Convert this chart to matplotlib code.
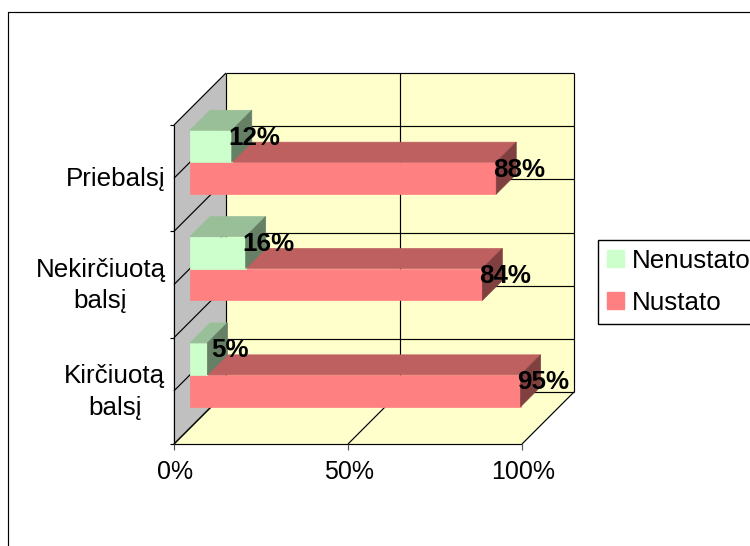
import matplotlib
matplotlib.use("Agg")
import matplotlib.pyplot as plt
from matplotlib.lines import Line2D
from matplotlib.patches import Patch, Polygon

plt.rcParams['font.family'] = ['Liberation Sans', 'DejaVu Sans']

categories = ["Kirčiuotą\nbalsį", "Nekirčiuotą\nbalsį", "Priebalsį"]
nustato = [95, 84, 88]
nenustato = [5, 16, 12]
x_ticks = [0, 50, 100]
series_names = ["Nenustato", "Nustato"]

W, H = 750, 546
X0, PX_PER_VAL = 174, 3.48       # pixel of 0% on front plane, pixels per percent
Y0, PX_PER_CAT = 444, 106.33     # pixel of the floor on front plane, pixels per category
DX = 52 / PX_PER_VAL             # box depth in data units
DY = 52 / PX_PER_CAT

WALL = '#FFFFCC'
SIDE = '#C0C0C0'
GREEN = ('#CCFFCC', '#99BF99', '#668066')
PINK = ('#FF8080', '#BF6060', '#804040')

fig = plt.figure(figsize=(W / 100, H / 100), dpi=100)
ax = fig.add_axes([0, 0, 1, 1])
ax.set_xlim(-X0 / PX_PER_VAL, (W - X0) / PX_PER_VAL)
ax.set_ylim((Y0 - H) / PX_PER_CAT, Y0 / PX_PER_CAT)
ax.axis('off')

n = len(categories)
xmax = x_ticks[-1]


def poly(pts, color, z):
    ax.add_patch(Polygon(pts, closed=True, facecolor=color, edgecolor=color, lw=0.5, zorder=z))


def line(xs, ys, z=2, color='black', lw=0.85):
    ax.plot(xs, ys, color=color, lw=lw, zorder=z, solid_capstyle='butt')


# walls and floor
poly([(0, 0), (DX, DY), (DX, n + DY), (0, n)], SIDE, 1)
poly([(DX, DY), (xmax + DX, DY), (xmax + DX, n + DY), (DX, n + DY)], WALL, 1)
poly([(0, 0), (xmax, 0), (xmax + DX, DY), (DX, DY)], WALL, 1)

# gridlines, every half category
for i in range(2 * n + 1):
    c = i / 2
    line([DX, xmax + DX], [c + DY, c + DY])
    line([0, DX], [c, c + DY])
for v in x_ticks:
    line([v + DX, v + DX], [DY, n + DY])
    line([v, v + DX], [0, DY])
line([0, 0], [0, n])
line([0, xmax], [0, 0])

# axis ticks
for v in x_ticks:
    line([v, v], [0, -6 / PX_PER_CAT], color='#555555')
    ax.text(v + 0.2, -28 / PX_PER_CAT, f"{v}%", ha='center', va='center', fontsize=18)
for c in range(n + 1):
    line([-4 / PX_PER_VAL, 0], [c, c])
for c, name in enumerate(categories):
    ax.text(-8.5 / PX_PER_VAL, c + 0.49, name, ha='right', va='center', ma='center',
            fontsize=18.7, linespacing=1.4)

# bars
D0, D1 = 16 / 52, 36 / 52
BAR_H = 0.3
GAP = 0.2


def bar3d(value, low, colors, z):
    high = low + BAR_H
    x_a, x_b = D0 * DX, value + D0 * DX
    y_off, y_back = D0 * DY, D1 * DY
    dx = (D1 - D0) * DX
    poly([(x_a, low + y_off), (x_b, low + y_off), (x_b, high + y_off), (x_a, high + y_off)], colors[0], z)
    poly([(x_a, high + y_off), (x_b, high + y_off), (x_b + dx, high + y_back), (x_a + dx, high + y_back)], colors[1], z)
    poly([(x_b, low + y_off), (x_b + dx, low + y_back), (x_b + dx, high + y_back), (x_b, high + y_off)], colors[2], z)


for c in reversed(range(n)):
    bar3d(nustato[c], c + GAP, PINK, 3 + 2 * (n - c))
    bar3d(nenustato[c], c + GAP + BAR_H, GREEN, 4 + 2 * (n - c))

# data labels sit over the end of each bar
LABEL_DX = 23 / PX_PER_VAL
for c in range(n):
    for value, low in ((nustato[c], c + GAP), (nenustato[c], c + GAP + BAR_H)):
        ax.text(value + D0 * DX + LABEL_DX, low + BAR_H + D0 * DY - 7.5 / PX_PER_CAT, f"{value}%",
                ha='center', va='center', fontsize=18.7, fontweight='bold', zorder=20)

# legend, runs off the right edge like the reference
handles = [Patch(facecolor=GREEN[0], edgecolor=GREEN[0]), Patch(facecolor=PINK[0], edgecolor=PINK[0])]
ax.legend(handles, series_names, loc='upper left', bbox_to_anchor=(598 / W, 1 - 239.5 / H),
          bbox_transform=fig.transFigure, borderaxespad=0, fontsize=18.7, fancybox=False,
          framealpha=1, edgecolor='black', handlelength=0.65, handleheight=0.65,
          handletextpad=0.3, labelspacing=0.7, borderpad=0.35)

# outer chart frame, open on the right and bottom
fig.add_artist(Line2D([8.2 / W, 8.2 / W, 1], [0, 1 - 11.5 / H, 1 - 11.5 / H], color='black', lw=0.85))

fig.savefig("out.png", dpi=100, facecolor='white')
